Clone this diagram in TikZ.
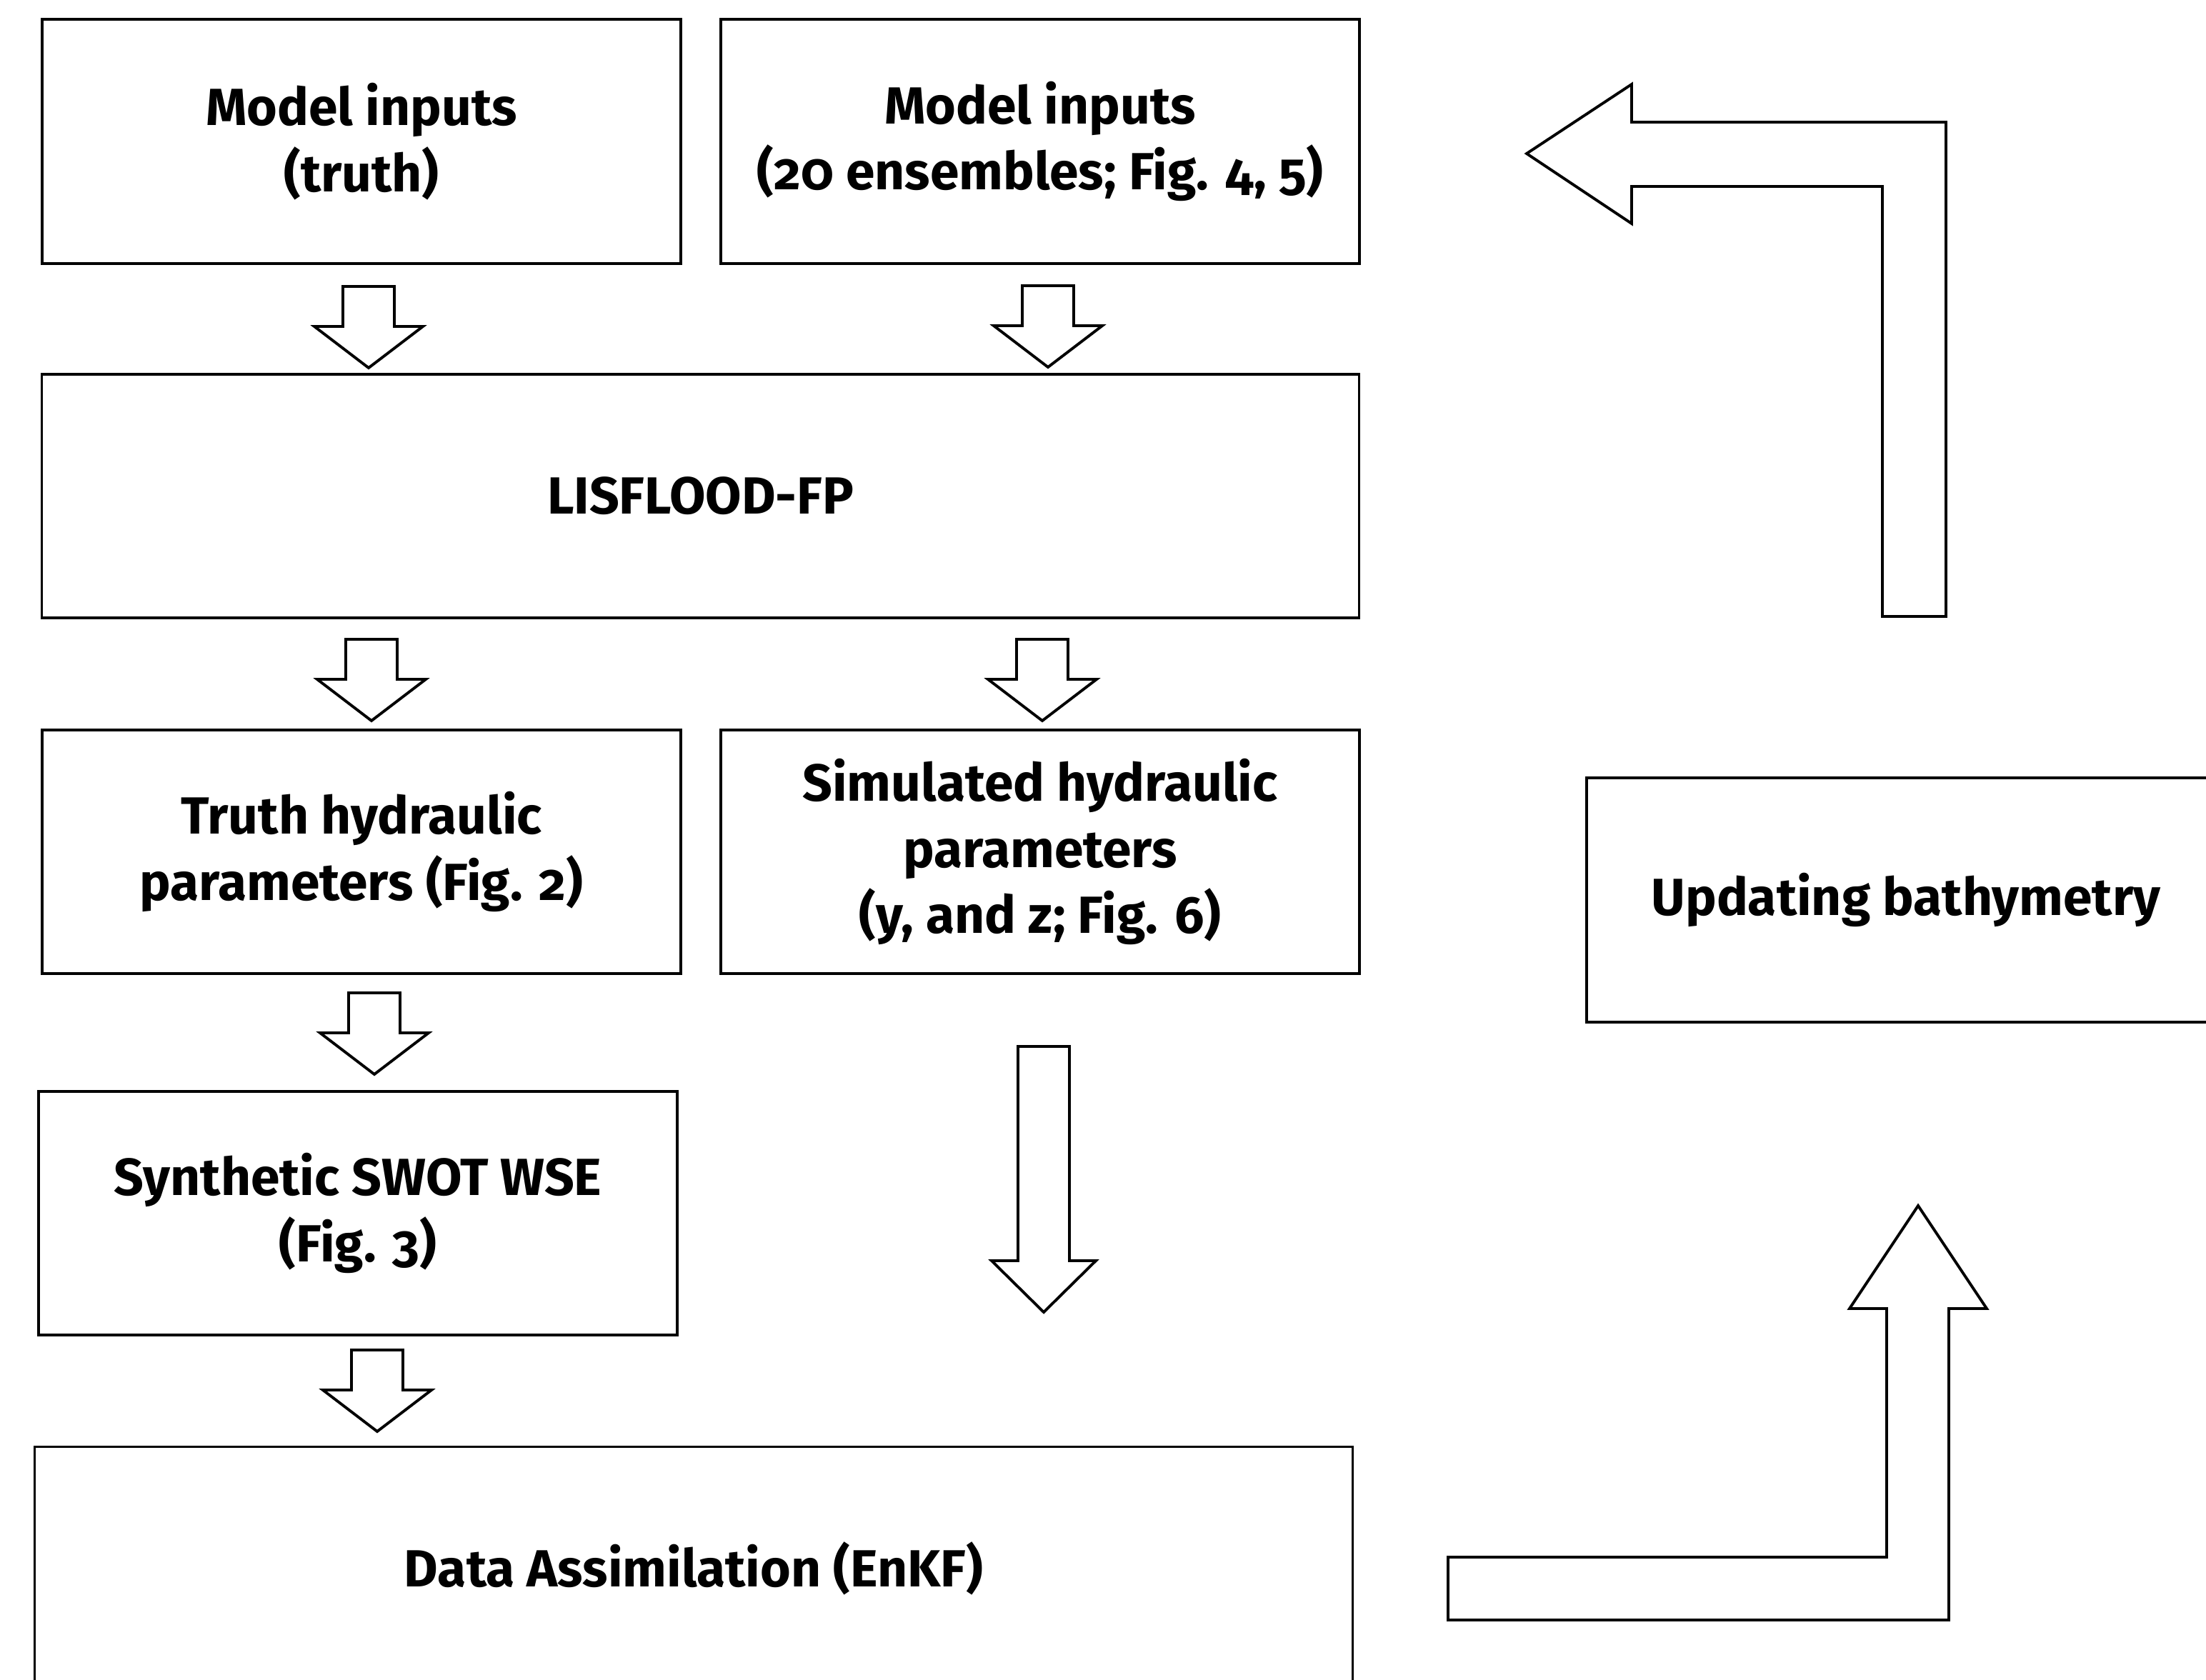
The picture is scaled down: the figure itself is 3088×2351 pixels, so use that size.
\documentclass[tikz,border=0pt]{standalone}
\usepackage{fontspec}
\setmainfont{Fira Sans}[Numbers=OldStyle]
\usetikzlibrary{calc}

% one unit = one pixel of the sketch
\tikzset{
  box/.style={draw, line width=1.1pt, minimum width=8.94cm, minimum height=3.41cm,
    align=center, inner sep=0pt, font=\fontsize{20.8}{26.3}\selectfont\bfseries},
  fat/.style={draw, line width=1.1pt, line join=miter, fill=white}
}
% small block arrow pointing down: #1 = x of centre, #2 = y of top
\newcommand{\fatdown}[2]{%
  \draw[fat] (#1-36,#2) -- (#1+36,#2) -- (#1+36,#2+56) -- (#1+76,#2+56)
    -- (#1,#2+114) -- (#1-76,#2+56) -- (#1-36,#2+56) -- cycle;}

\begin{document}
\begin{tikzpicture}[x=0.01cm, y=-0.01cm]
  \clip (0,0) rectangle (3088,2351);
  \fill[white] (0,0) rectangle (3088,2351);

  % left column and top row
  \node[box] (modtruth) at (506,198) {Model inputs\\(truth)};
  \node[box] (modens) at (1456,198) {Model inputs\\(20 ensembles; Fig. 4, 5)};
  \node[box, minimum width=18.43cm] (lisflood) at (980.5,694.5) {LISFLOOD-FP};
  \node[box] (truthhyd) at (506,1192.5) {Truth hydraulic\\parameters (Fig. 2)};
  \node[box] (simhyd) at (1456,1192.5) {Simulated hydraulic\\parameters\\(y, and z; Fig. 6)};
  \node[box] (swot) at (501,1698.5) {Synthetic SWOT WSE\\(Fig. 3)};
  \node[box, minimum width=18.44cm] (enkf) at (971,2196) {Data Assimilation (EnKF)};

  % right column
  \node[box] (bathy) at (2668,1260) {Updating bathymetry};

  % short arrows between boxes
  \fatdown{516}{401}
  \fatdown{1467}{400}
  \fatdown{520}{895}
  \fatdown{1459}{895}
  \fatdown{524}{1390}
  \fatdown{528}{1890}

  % long arrow below simulated parameters
  \draw[fat] (1425,1465) -- (1497,1465) -- (1497,1765) -- (1534,1765)
    -- (1461,1837) -- (1388,1765) -- (1425,1765) -- cycle;

  % bent arrow from EnKF up to bathymetry
  \draw[fat] (2027,2180) -- (2641,2180) -- (2641,1832) -- (2589,1832)
    -- (2685,1688) -- (2781,1832) -- (2728,1832) -- (2728,2268)
    -- (2027,2268) -- cycle;

  % bent arrow back to the model inputs
  \draw[fat] (2137,215) -- (2284,118) -- (2284,171) -- (2724,171)
    -- (2724,863) -- (2635,863) -- (2635,261) -- (2284,261)
    -- (2284,313) -- cycle;

\end{tikzpicture}
\end{document}
